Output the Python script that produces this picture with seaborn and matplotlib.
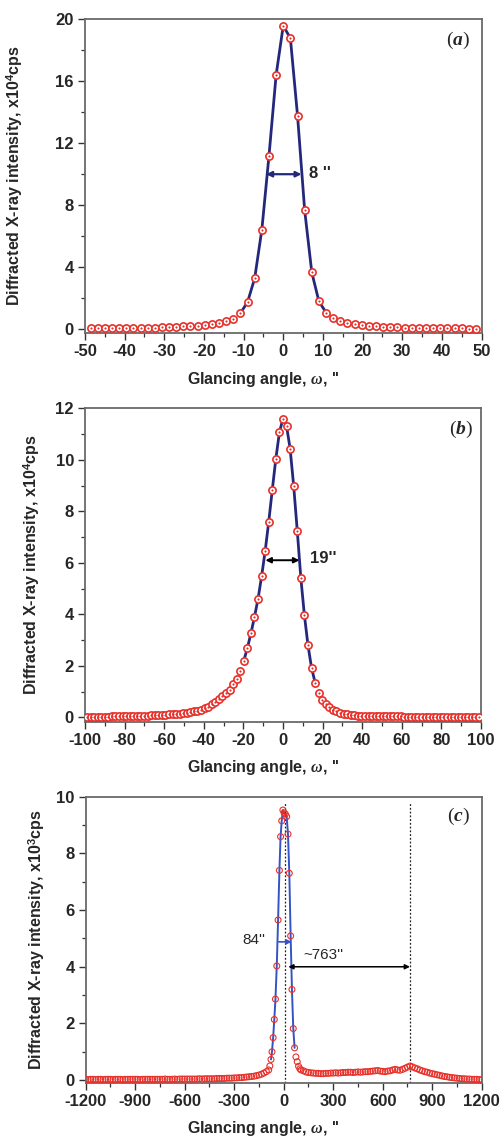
import numpy as np
import pandas as pd
import matplotlib
matplotlib.use("Agg")
import matplotlib.pyplot as plt
import seaborn as sns
from matplotlib.ticker import MultipleLocator

# ---------------- data ----------------
# panel (a): scan step 1.8"
a_x = np.arange(-27, 28) * 1.8
a_y = [0.06, 0.06, 0.07, 0.07, 0.08, 0.08, 0.09, 0.10, 0.11, 0.12, 0.13,
       0.15, 0.17, 0.19, 0.21, 0.24, 0.28, 0.32, 0.41, 0.52, 0.69,
       1.05, 1.76, 3.30, 6.42, 11.18, 16.39, 19.57, 18.76, 13.78, 7.68, 3.67, 1.80, 1.09,
       0.71, 0.54, 0.43, 0.34, 0.30, 0.25, 0.21, 0.18, 0.16, 0.14, 0.12,
       0.11, 0.10, 0.09, 0.08, 0.07, 0.07, 0.06, 0.06, 0.05, 0.05]
a_fit_range = (-11.0, 11.0)

# panel (b): scan step 1.8"
b_x = np.arange(-55, 56) * 1.8
b_y = [0.02, 0.02, 0.025, 0.025, 0.03, 0.03, 0.03, 0.035, 0.035, 0.04, 0.04,
       0.045, 0.045, 0.05, 0.055, 0.06, 0.065, 0.07, 0.075, 0.08, 0.09, 0.095,
       0.10, 0.11, 0.12, 0.13, 0.145, 0.16, 0.18, 0.20, 0.23, 0.26, 0.30,
       0.35, 0.42, 0.50, 0.60, 0.70, 0.82, 0.95, 1.08, 1.28, 1.48, 1.80,
       2.20, 2.69, 3.26, 3.90, 4.60, 5.48, 6.46, 7.60, 8.84, 10.05, 11.07,
       11.60, 11.31, 10.43, 8.98, 7.25, 5.42, 3.97, 2.81, 1.93, 1.35, 0.93, 0.68,
       0.52, 0.39, 0.30, 0.23, 0.18, 0.14, 0.11, 0.09, 0.075, 0.065,
       0.06, 0.055, 0.05, 0.05, 0.045, 0.045, 0.04, 0.04, 0.04, 0.035,
       0.035, 0.035, 0.03, 0.03, 0.03, 0.03, 0.03, 0.025, 0.025, 0.025,
       0.025, 0.025, 0.02, 0.02, 0.02, 0.02, 0.02, 0.02, 0.02, 0.02,
       0.02, 0.02, 0.02, 0.02]
b_fit_range = (-20.0, 17.0)

# panel (c)
c_left_x = np.arange(-1200, -104, 15)
c_left_y = [0.03, 0.02, 0.03, 0.03, 0.02, 0.03, 0.03, 0.02, 0.03, 0.03,
            0.03, 0.02, 0.03, 0.03, 0.03, 0.02, 0.03, 0.03, 0.03, 0.03,
            0.03, 0.03, 0.02, 0.03, 0.03, 0.03, 0.03, 0.03, 0.03, 0.03,
            0.03, 0.03, 0.04, 0.03, 0.03, 0.03, 0.04, 0.03, 0.04, 0.04,
            0.04, 0.04, 0.04, 0.04, 0.04, 0.04, 0.05, 0.04, 0.05, 0.05,
            0.05, 0.05, 0.05, 0.06, 0.06, 0.06, 0.06, 0.07, 0.07, 0.07,
            0.08, 0.08, 0.09, 0.09, 0.10, 0.11, 0.12, 0.13, 0.14, 0.16,
            0.18, 0.21, 0.25, 0.30]
c_peak_x = [-91, -84, -77, -71, -64, -57, -50, -42, -34, -26, -19, -12, -5,
            2, 10, 18, 26, 34, 42, 50, 58, 66, 74, 82, 90, 98]
c_peak_y = [0.36, 0.50, 0.73, 1.00, 1.50, 2.14, 2.86, 4.03, 5.65, 7.40, 8.59, 9.15, 9.53,
            9.43, 9.39, 9.30, 8.68, 7.30, 5.09, 3.20, 1.82, 1.14, 0.82, 0.65, 0.49, 0.40]
c_right_x = np.arange(105, 1201, 15)
c_right_y = [0.36, 0.33, 0.29, 0.27, 0.26, 0.25, 0.24, 0.24, 0.23, 0.23,
             0.24, 0.24, 0.25, 0.25, 0.26, 0.25, 0.26, 0.27, 0.27, 0.28,
             0.28, 0.27, 0.28, 0.29, 0.28, 0.29, 0.30, 0.30, 0.31, 0.32,
             0.33, 0.34, 0.32, 0.31, 0.30, 0.32, 0.33, 0.36, 0.38, 0.36,
             0.35, 0.38, 0.42, 0.46, 0.50, 0.47, 0.43, 0.40, 0.36, 0.33,
             0.30, 0.28, 0.25, 0.23, 0.21, 0.19, 0.17, 0.15, 0.13, 0.12,
             0.10, 0.09, 0.08, 0.07, 0.06, 0.05, 0.05, 0.04, 0.04, 0.03,
             0.03, 0.03, 0.02, 0.02]
c_fit_range = (-78, 67)
c_marks = [8, 765]

XLABEL = r"Glancing angle, $\omega$, ''"
YLABEL_A = r"Diffracted X-ray intensity, x10$^{\mathbf{4}}$cps"
YLABEL_C = r"Diffracted X-ray intensity, x10$^{\mathbf{3}}$cps"

# ---------------- style ----------------
sns.set_style("ticks")
plt.rcParams['font.family'] = ['Liberation Sans', 'DejaVu Sans']
plt.rcParams['font.weight'] = 'bold'
plt.rcParams['axes.unicode_minus'] = False
plt.rcParams['mathtext.fontset'] = 'custom'
plt.rcParams['mathtext.rm'] = 'Liberation Sans'
plt.rcParams['mathtext.bf'] = 'Liberation Sans:bold'
plt.rcParams['mathtext.it'] = 'Liberation Serif:italic'

RED = "#E8302A"
NAVY = "#24287C"
BLUE = "#3553C6"
SPINE = "#6A6A6A"

W, H = 501, 1138
fig = plt.figure(figsize=(W / 100, H / 100), dpi=100)


def add_axes(l, t, r, b):
    return fig.add_axes([l / W, 1 - b / H, (r - l) / W, (b - t) / H])


axa = add_axes(85, 19, 481.5, 333.3)
axb = add_axes(85, 408.3, 481, 721.7)
axc = add_axes(85.7, 796.7, 481.7, 1083)


def style(ax, xlim, ylim, xmaj, xmin, ymaj, ymin, ylabel, ylab_x, box_px):
    ax.set_xlim(*xlim)
    ax.set_ylim(*ylim)
    ax.xaxis.set_major_locator(MultipleLocator(xmaj))
    ax.xaxis.set_minor_locator(MultipleLocator(xmin))
    ax.yaxis.set_major_locator(MultipleLocator(ymaj))
    ax.yaxis.set_minor_locator(MultipleLocator(ymin))
    ax.tick_params(which='major', direction='out', length=5, width=1.0,
                   color='#333333', labelsize=12, pad=3)
    ax.tick_params(which='minor', direction='out', length=3, width=0.9,
                   color='#333333')
    for sp in ax.spines.values():
        sp.set_visible(True)
        sp.set_color(SPINE)
        sp.set_linewidth(1.3)
    for lab in ax.get_xticklabels() + ax.get_yticklabels():
        lab.set_fontweight('bold')
    ax.set_xlabel(XLABEL, fontsize=11.5, fontweight='bold')
    ax.set_ylabel(ylabel, fontsize=11.5, fontweight='bold')
    w_px, h_px = box_px
    ax.xaxis.label.set_va('center')
    ax.xaxis.set_label_coords((263 - 85) / w_px, -46 / h_px)
    ax.yaxis.set_label_coords(ylab_x, 0.5)


def dotted_markers(ax, df):
    sns.scatterplot(data=df, x='x', y='y', ax=ax, marker='o', s=27,
                    facecolor='white', edgecolor=RED, linewidth=1.2,
                    zorder=3, legend=False)
    sns.scatterplot(data=df, x='x', y='y', ax=ax, marker='o', s=1.3,
                    color=RED, edgecolor=RED, linewidth=0.3,
                    zorder=4, legend=False)


# ---------------- panel (a) ----------------
dfa = pd.DataFrame({'x': a_x, 'y': a_y})
fa = dfa[(dfa.x >= a_fit_range[0]) & (dfa.x <= a_fit_range[1])]
sns.lineplot(data=fa, x='x', y='y', ax=axa, color=NAVY, linewidth=2.0,
             sort=False, estimator=None, zorder=2)
dotted_markers(axa, dfa)
style(axa, (-50, 50), (-0.25, 20), 10, 5, 4, 2, YLABEL_A,
      (25 - 85) / 396.5, (396.5, 314.3))
axa.annotate('', xy=(-4.3, 10), xytext=(4.6, 10),
             arrowprops=dict(arrowstyle='<|-|>', color=NAVY, lw=1.6,
                             mutation_scale=8, shrinkA=0, shrinkB=0))
axa.text(6.5, 10.05, "8 ''", fontsize=12, fontweight='bold', va='center', ha='left')
axa.text(44.1, 18.6, r"($\mathit{a}$)", fontsize=14, fontweight='normal',
         family='Liberation Serif', ha='center', va='center')

# ---------------- panel (b) ----------------
dfb = pd.DataFrame({'x': b_x, 'y': b_y})
fb = dfb[(dfb.x >= b_fit_range[0]) & (dfb.x <= b_fit_range[1])]
sns.lineplot(data=fb, x='x', y='y', ax=axb, color=NAVY, linewidth=2.0,
             sort=False, estimator=None, zorder=2)
dotted_markers(axb, dfb)
style(axb, (-100, 100), (-0.17, 12), 20, 10, 2, 1, YLABEL_A,
      (42 - 85) / 396, (396, 313.4))
axb.annotate('', xy=(-8.9, 6.1), xytext=(8.3, 6.1),
             arrowprops=dict(arrowstyle='<|-|>', color='black', lw=1.4,
                             mutation_scale=8, shrinkA=0, shrinkB=0))
axb.text(13.6, 6.17, "19''", fontsize=12, fontweight='bold', va='center', ha='left')
axb.text(89.9, 11.16, r"($\mathit{b}$)", fontsize=14, fontweight='normal',
         family='Liberation Serif', ha='center', va='center')

# ---------------- panel (c) ----------------
dfc = pd.DataFrame({'x': np.concatenate([c_left_x, c_peak_x, c_right_x]),
                    'y': np.concatenate([c_left_y, c_peak_y, c_right_y])})
fc = dfc[(dfc.x >= c_fit_range[0]) & (dfc.x <= c_fit_range[1])]
for xv in c_marks:
    axc.axvline(xv, ymin=0, ymax=(9.8 + 0.1) / 10.1, color='#222222',
                lw=0.9, ls=(0, (1.5, 1.5)), zorder=1)
sns.lineplot(data=fc, x='x', y='y', ax=axc, color=BLUE, linewidth=1.4,
             sort=False, estimator=None, zorder=2)
sns.scatterplot(data=dfc, x='x', y='y', ax=axc, marker='o', s=18,
                facecolor='none', edgecolor=RED, linewidth=0.8,
                zorder=3, legend=False)
style(axc, (-1200, 1200), (-0.1, 10), 300, 150, 2, 1, YLABEL_C,
      (47 - 85.7) / 396, (396, 286.3))
axc.annotate('', xy=(48, 4.88), xytext=(-30, 4.88),
             arrowprops=dict(arrowstyle='-|>', color=BLUE, lw=1.2,
                             mutation_scale=7, shrinkA=0, shrinkB=0))
axc.annotate('', xy=(28, 4.0), xytext=(765, 4.0),
             arrowprops=dict(arrowstyle='<|-|>', color='black', lw=1.1,
                             mutation_scale=7, shrinkA=0, shrinkB=0))
axc.text(-113, 4.95, "84''", fontsize=11, fontweight='normal', ha='right', va='center')
axc.text(119, 4.42, "~763''", fontsize=11, fontweight='normal', ha='left', va='center')
axc.text(1059, 9.29, r"($\mathit{c}$)", fontsize=14, fontweight='normal',
         family='Liberation Serif', ha='center', va='center')

fig.savefig("out.png", dpi=100)
